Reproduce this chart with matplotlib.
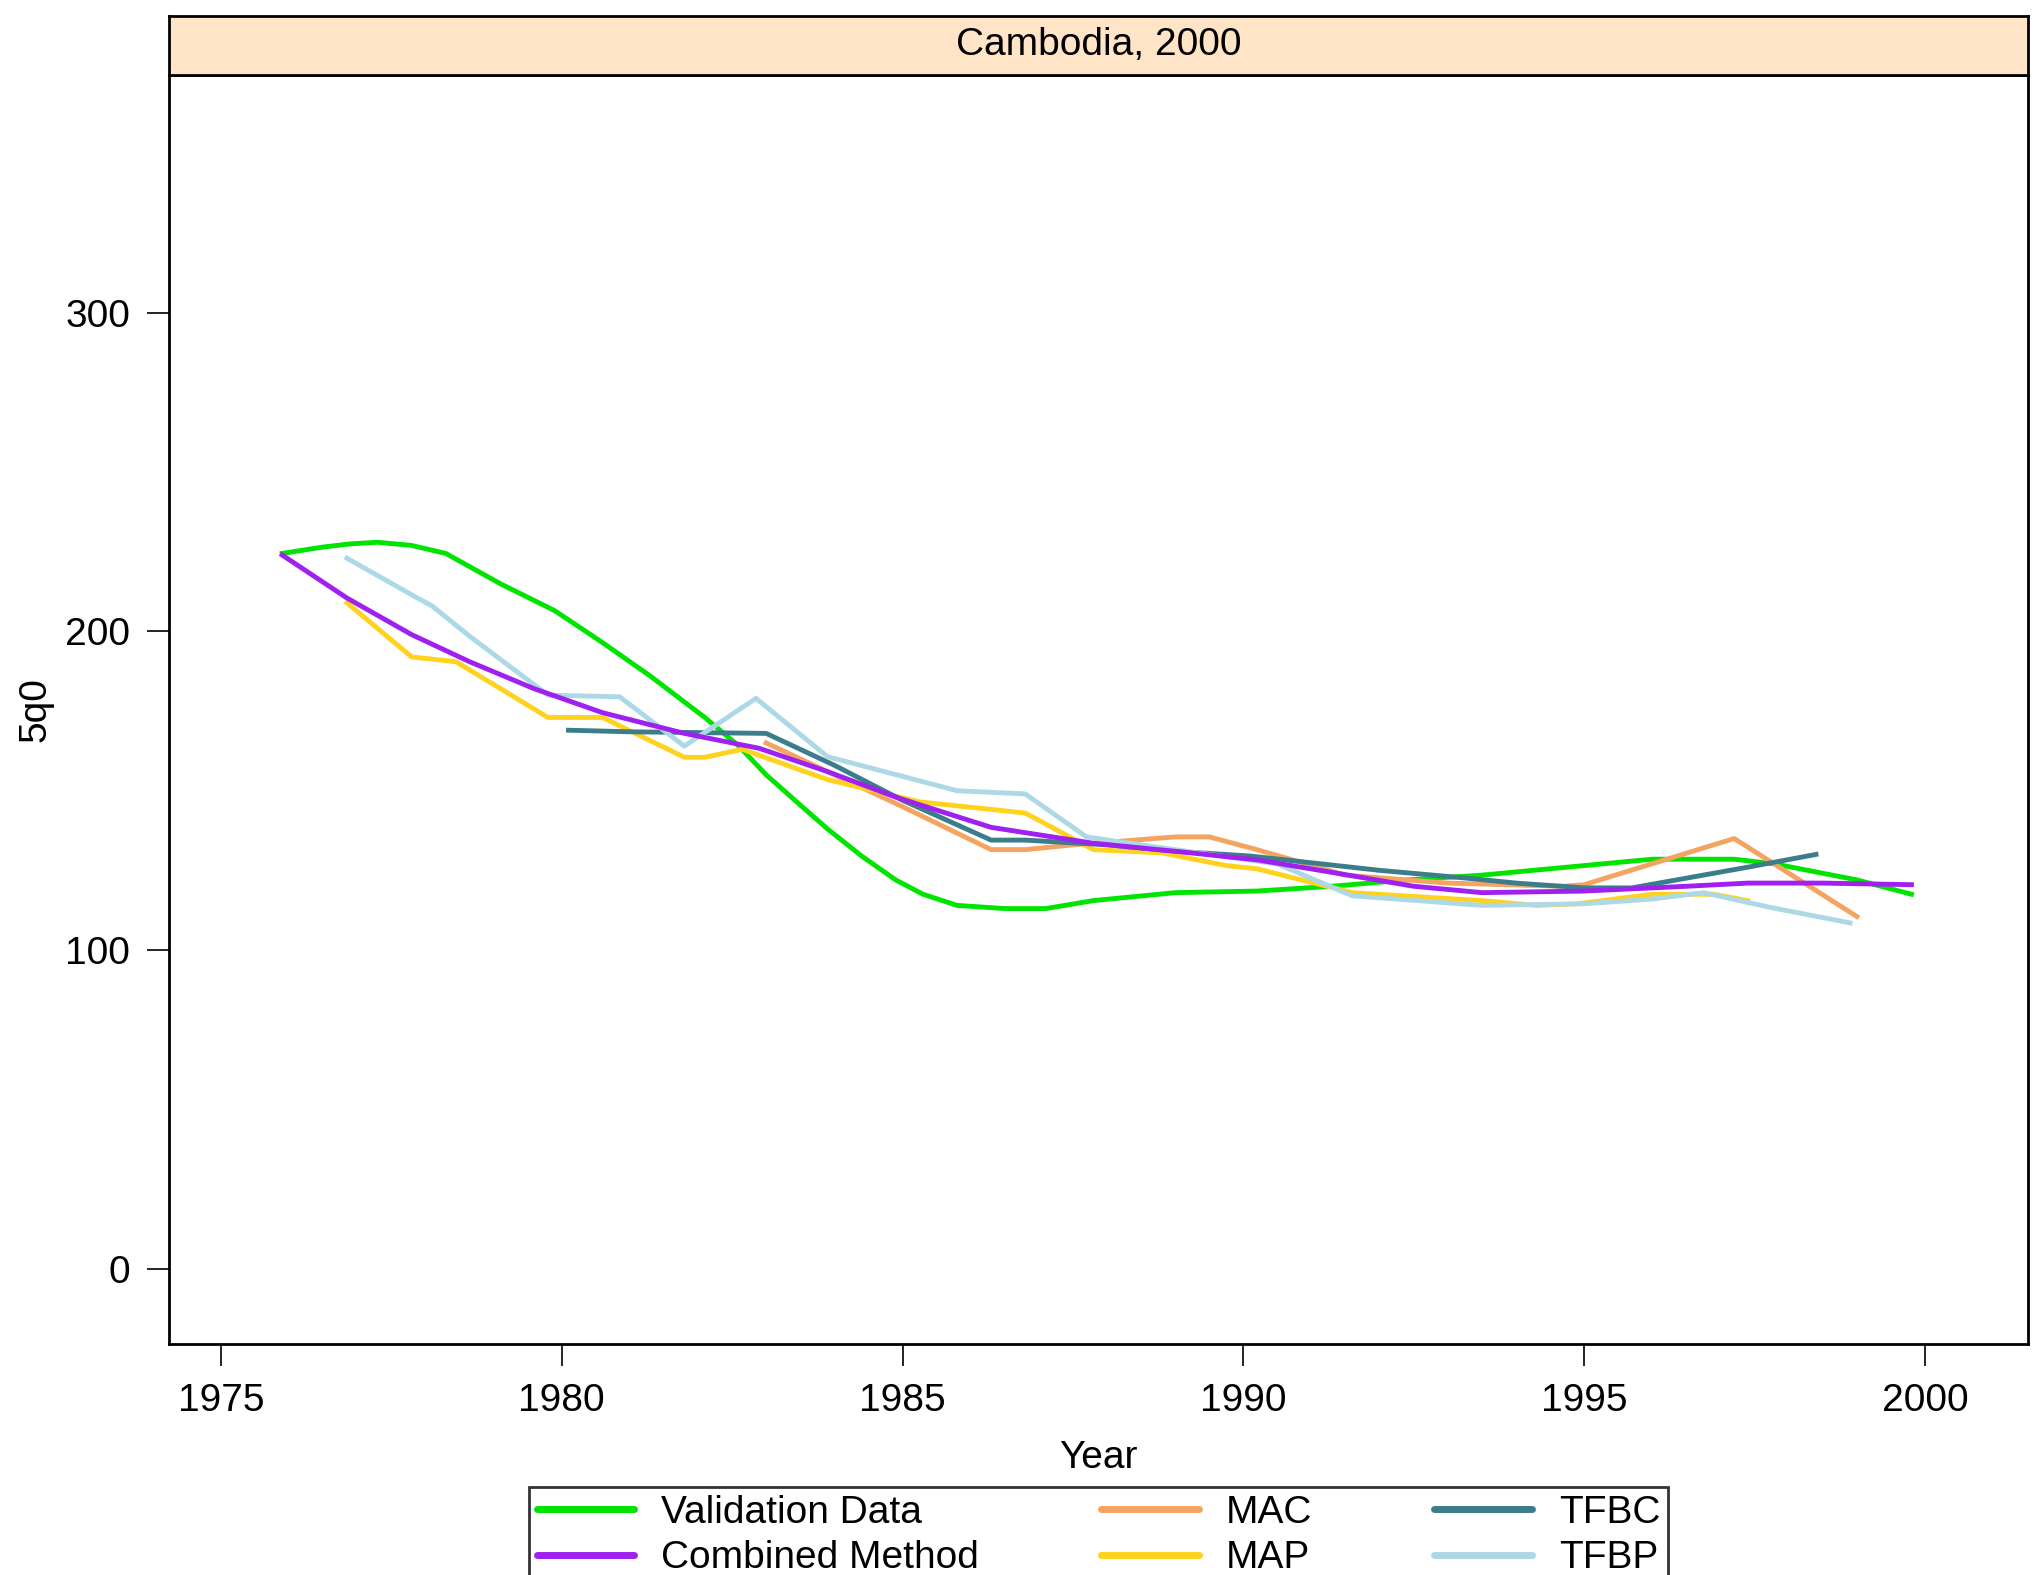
import matplotlib
matplotlib.use("Agg")
import matplotlib.pyplot as plt
from matplotlib.lines import Line2D

FONT = ['Liberation Sans Narrow', 'Liberation Sans', 'DejaVu Sans']
plt.rcParams['font.family'] = FONT

# ---------------- data ----------------
val_years = [1975.9, 1976.5, 1976.9, 1977.3, 1977.8, 1978.3, 1979.1, 1979.9, 1980.6, 1981.3,
             1982.1, 1982.6, 1983.0, 1983.5, 1983.9, 1984.4, 1984.9, 1985.3, 1985.8, 1986.5,
             1987.1, 1987.8, 1989.0, 1990.2, 1991.3, 1992.4, 1993.5, 1995.0, 1996.0, 1997.2,
             1997.8, 1999.0, 1999.8]
val_q = [224.5, 226.5, 227.5, 228, 227, 224.5, 215, 206.5, 196.5, 186,
         173, 164, 155, 145.5, 138, 129.5, 122, 117.5, 114, 113,
         113, 115.5, 118, 118.5, 120, 122, 123.5, 126.5, 128.5, 128.5,
         127, 122, 117.5]

comb_years = [1975.9, 1976.85, 1977.8, 1978.65, 1979.6, 1980.6, 1981.8, 1982.9, 1983.9, 1984.9,
              1986.3, 1987.8, 1989.0, 1990.2, 1991.4, 1992.5, 1993.5, 1995.0, 1996.5, 1997.4,
              1998.5, 1999.8]
comb_q = [224, 210.5, 199, 190.5, 182, 174.5, 168, 163.3, 156, 148,
          138.5, 133.5, 131, 128.3, 124, 120, 118, 118.5, 120, 121,
          121, 120.5]

mac_years = [1983.0, 1984.0, 1985.0, 1986.3, 1986.8, 1987.5, 1989.0, 1989.5, 1990.2, 1991.5,
             1993.0, 1994.7, 1995.0, 1997.2, 1999.0]
mac_q = [165, 155, 145, 131.5, 131.5, 133, 135.5, 135.5, 131.5, 123.5,
         121, 120, 120.5, 135, 110.5]

map_years = [1976.85, 1977.8, 1978.45, 1979.8, 1980.6, 1981.8, 1982.1, 1982.65, 1983.9, 1985.25,
             1986.8, 1987.8, 1988.8, 1989.75, 1990.2, 1991.6, 1993.5, 1994.3, 1994.9, 1996.0,
             1996.9, 1997.4]
map_q = [209, 192, 190.5, 173, 173, 160.5, 160.5, 163, 153.5, 146.5,
         143, 131.5, 130.5, 126.5, 125.5, 118, 115.5, 114, 114.5, 117.5,
         117.5, 115.5]

tfbc_years = [1980.1, 1981.0, 1983.0, 1984.0, 1985.0, 1986.3, 1986.8, 1988.0, 1989.0, 1990.1,
              1992.0, 1993.3, 1994.0, 1995.0, 1995.7, 1997.4, 1998.4]
tfbc_q = [169, 168.5, 168, 158, 147, 134.5, 134.5, 133, 131, 129.5,
          125, 122.5, 121, 119.5, 119.5, 126, 130]

tfbp_years = [1976.85, 1977.8, 1978.1, 1978.65, 1979.8, 1980.85, 1981.8, 1982.85, 1983.9, 1985.8,
              1986.8, 1987.7, 1988.5, 1989.5, 1990.5, 1991.6, 1993.5, 1995.0, 1996.0, 1996.75,
              1997.7, 1998.9]
tfbp_q = [223, 211.5, 208, 198.5, 180, 179.5, 164, 179, 160.7, 150,
          149, 135.5, 133, 130, 127, 117, 114, 114.5, 116, 118,
          113.5, 108.5]

series_names = ["Validation Data", "Combined Method", "MAC", "MAP", "TFBC", "TFBP"]
series_colors = ["#00E400", "#A020F0", "#F4A460", "#FFD21E", "#3C7D8C", "#ADD8E6"]

x_ticks = [1975, 1980, 1985, 1990, 1995, 2000]
y_ticks = [0, 100, 200, 300]
panel_title = "Cambodia, 2000"

# ---------------- figure ----------------
W, H = 2038, 1575
fig = plt.figure(figsize=(W / 100, H / 100), dpi=100)
fig.patch.set_facecolor("white")

ax_l, ax_r, ax_t, ax_b = 169, 2028, 75, 1344
ax = fig.add_axes([ax_l / W, 1 - ax_b / H, (ax_r - ax_l) / W, (ax_b - ax_t) / H])

FS = 28
data = [(val_years, val_q), (comb_years, comb_q), (mac_years, mac_q),
        (map_years, map_q), (tfbc_years, tfbc_q), (tfbp_years, tfbp_q)]
draw_order = [0, 2, 3, 4, 5, 1]
for i in draw_order:
    xs, ys = data[i]
    ax.plot(xs, ys, color=series_colors[i], lw=3.5, solid_joinstyle='round')

ax.set_xlim(1974.24, 2001.51)
ax.set_ylim(-23.7, 374.7)
ax.set_xticks(x_ticks)
ax.set_yticks(y_ticks)
ax.set_xticklabels([str(t) for t in x_ticks], fontsize=FS)
ax.set_yticklabels([str(t) for t in y_ticks], fontsize=FS)
ax.tick_params(axis='both', direction='out', length=16, width=1.2, color='black', pad=12,
               top=False, right=False)
for sp in ax.spines.values():
    sp.set_linewidth(2.0)
    sp.set_color('black')

ax.set_xlabel("Year", fontsize=FS, va='center')
ax.xaxis.set_label_coords(0.5, -(1458 - ax_b) / (ax_b - ax_t))
ax.set_ylabel("5q0", fontsize=FS, va='center')
ax.yaxis.set_label_coords(-(ax_l - 35) / (ax_r - ax_l), 0.5)

# strip
st_t = 15.6
sax = fig.add_axes([ax_l / W, 1 - ax_t / H, (ax_r - ax_l) / W, (ax_t - st_t) / H])
sax.set_facecolor("#FFE4C8")
sax.set_xticks([])
sax.set_yticks([])
for sp in sax.spines.values():
    sp.set_linewidth(2.0)
    sp.set_color('black')
sax.text(0.5, 0.5, panel_title, ha='center', va='center', fontsize=FS, transform=sax.transAxes)

# legend
handles = [Line2D([], [], color=c, lw=5, solid_capstyle='round') for c in series_colors]
leg_l, leg_r, leg_t = 529, 1668, 1487
leg_h = 0.05
leg = fig.legend(handles, series_names, ncol=3, loc='upper left',
                 bbox_to_anchor=(leg_l / W, 1 - leg_t / H - leg_h, (leg_r - leg_l) / W, leg_h),
                 mode='expand', fontsize=FS, frameon=True, fancybox=False,
                 edgecolor='black', handlelength=2.5, handletextpad=0.7,
                 borderpad=0.2, labelspacing=0.25, borderaxespad=0.0)
leg.get_frame().set_linewidth(2.0)

fig.savefig("out.png", dpi=100)
